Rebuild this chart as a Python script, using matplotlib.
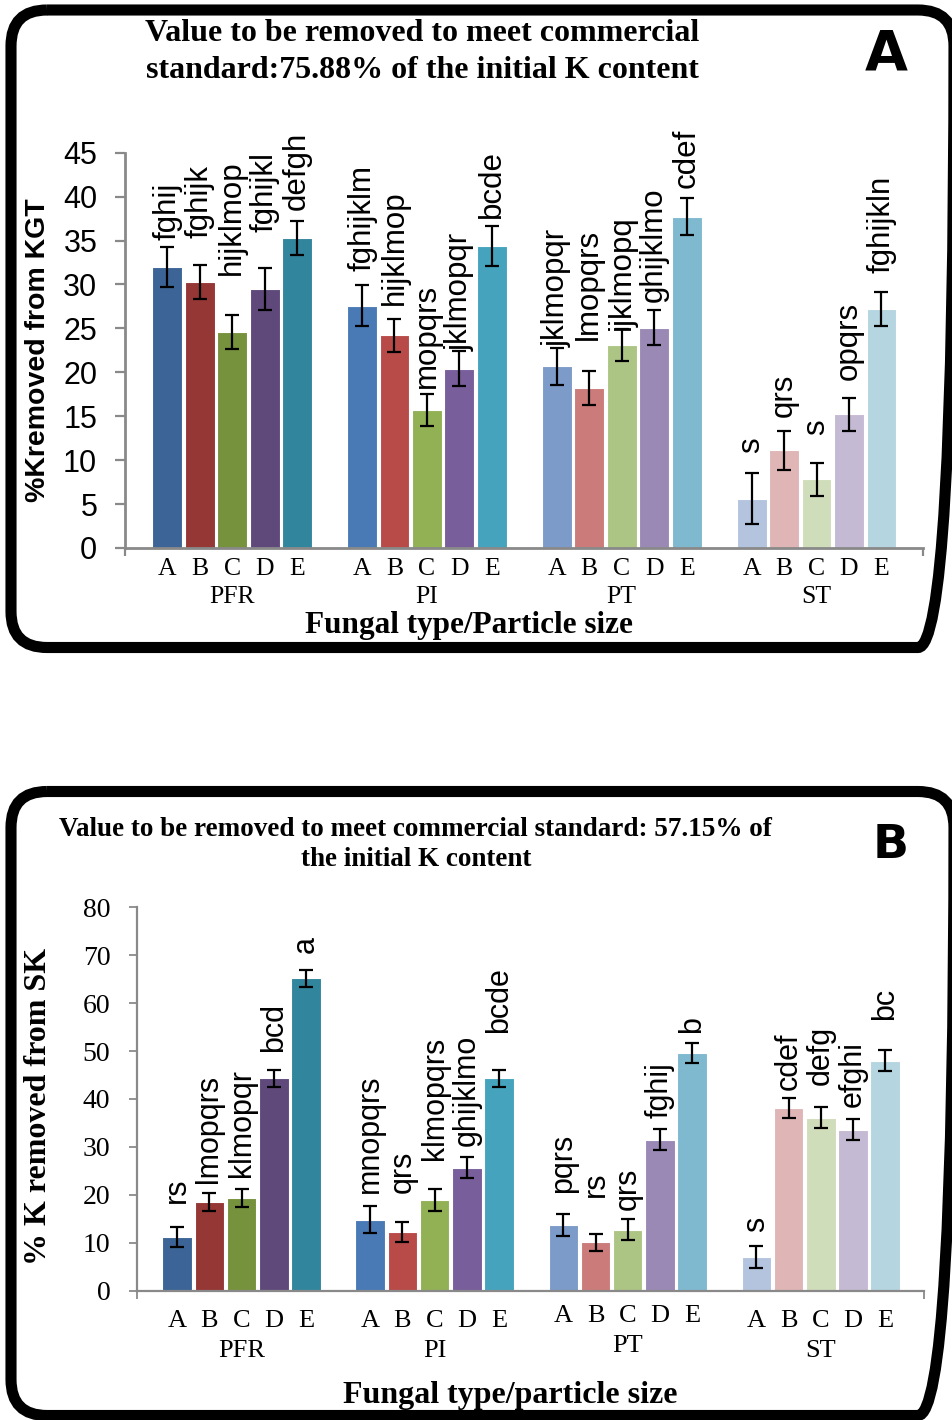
import matplotlib
matplotlib.use("Agg")
import matplotlib.pyplot as plt
from matplotlib.patches import FancyBboxPatch
import numpy as np

# ---------------- data ----------------
groups = ["PFR", "PI", "PT", "ST"]
sizes = ["A", "B", "C", "D", "E"]

values_A = [32.0, 30.3, 24.6, 29.5, 35.3,
            27.6, 24.2, 15.7, 20.4, 34.4,
            20.7, 18.2, 23.1, 25.1, 37.7,
            5.6, 11.1, 7.8, 15.2, 27.2]
errors_A = [2.3, 1.9, 1.9, 2.4, 1.9,
            2.35, 1.9, 1.85, 2.0, 2.3,
            2.1, 1.9, 1.85, 2.0, 2.1,
            2.9, 2.2, 1.9, 1.9, 1.9]
letters_A = ["fghij", "fghijk", "hijklmop", "fghijkl", "defgh",
             "fghijklm", "hijklmop", "mopqrs", "jklmopqr", "bcde",
             "jklmopqr", "lmopqrs", "ijklmopq", "ghijklmo", "cdef",
             "s", "qrs", "s", "opqrs", "fghijkln"]
label_y_A = [35.1, 35.3, 31.1, 36.0, 38.5,
             31.5, 27.7, 18.2, 22.4, 37.6,
             22.9, 23.7, 24.8, 28.05, 41.0,
             10.8, 14.95, 12.9, 19.1, 31.3]

values_B = [11.2, 18.5, 19.4, 44.3, 65.2,
            14.8, 12.2, 18.9, 25.7, 44.3,
            13.7, 10.1, 12.7, 31.5, 49.6,
            7.0, 38.2, 36.1, 33.6, 48.0]
errors_B = [2.1, 1.8, 1.85, 1.85, 1.8,
            2.85, 2.1, 2.35, 2.1, 1.8,
            2.2, 1.8, 2.2, 2.2, 2.1,
            2.35, 2.1, 2.2, 2.2, 2.2]
letters_B = ["rs", "lmopqrs", "klmopqr", "bcd", "a",
             "mnopqrs", "qrs", "klmopqrs", "ghijklmo", "bcde",
             "pqrs", "rs", "qrs", "fghij", "b",
             "s", "cdef", "defg", "efghi", "bc"]
label_y_B = [18.2, 22.4, 23.8, 49.9, 70.4,
             20.3, 20.3, 27.3, 30.1, 53.7,
             20.3, 19.6, 16.8, 36.0, 53.7,
             12.3, 41.9, 42.9, 38.4, 56.5]

yticks_A = [0, 5, 10, 15, 20, 25, 30, 35, 40, 45]
yticks_B = [0, 10, 20, 30, 40, 50, 60, 70, 80]

colors = ["#3C6496", "#953735", "#76923C", "#5F497A", "#31859C",
          "#4A7AB5", "#B84B48", "#92B155", "#795E9C", "#45A3BE",
          "#7C9BC9", "#CB7B79", "#ADC584", "#9B89B5", "#7EB9CF",
          "#B4C4DF", "#DFB6B5", "#D0DDBB", "#C5BAD3", "#B5D5E0"]

W, H = 952, 1420
fig = plt.figure(figsize=(W / 100, H / 100), dpi=100)

# background axes in pixel units for frames
bg = fig.add_axes([0, 0, 1, 1], zorder=0)
bg.set_xlim(0, W)
bg.set_ylim(H, 0)
bg.axis("off")
for (x0, y0, x1, y1) in [(11, 10, 954, 647.5), (11, 791.5, 954, 1415.5)]:
    bg.add_patch(FancyBboxPatch((x0, y0), x1 - x0, y1 - y0,
                                boxstyle="round,pad=0,rounding_size=36",
                                lw=8.0, ec="black", fc="none"))

SERIF = "Liberation Serif"
SANS = "Liberation Sans"
AXCOL = "#898989"

pos = [g * 6 + i for g in range(len(groups)) for i in range(len(sizes))]
tick_letters = sizes * len(groups)
gcenters = [g * 6 + 2 for g in range(len(groups))]


def px2fig(x, y):
    return x / W, 1 - y / H


def make_panel(rect, xlim, ylim, yticks, values, errors, letters, label_y,
               tick_font, tick_size, spine_lw, tick_len, cap, lab_size,
               letter_size, letter_off, group_size, group_offs):
    x0, ytop, x1, ybot = rect
    ax = fig.add_axes([x0 / W, 1 - ybot / H, (x1 - x0) / W, (ybot - ytop) / H], zorder=2)
    ax.set_facecolor("none")
    ax.bar(pos, values, width=0.92, color=colors, edgecolor="white", linewidth=0.8, zorder=2)
    ax.errorbar(pos, values, yerr=errors, fmt="none", ecolor="black",
                elinewidth=1.6, capsize=cap, capthick=1.6, zorder=3)
    for x, t, ly in zip(pos, letters, label_y):
        ax.text(x, ly, t, rotation=90, ha="center", va="bottom",
                fontsize=lab_size, family=SANS, color="black", zorder=4)
    ax.set_xlim(*xlim)
    ax.set_ylim(*ylim)
    ax.set_yticks(yticks)
    ax.set_yticklabels([str(v) for v in yticks], family=tick_font, fontsize=tick_size)
    ax.tick_params(axis="y", direction="out", length=tick_len, width=spine_lw * 0.8,
                   color=AXCOL, pad=13, labelcolor="black")
    ax.set_xticks([xlim[0], xlim[1]])
    ax.set_xticklabels([])
    ax.tick_params(axis="x", direction="out", length=6, width=spine_lw * 0.8, color=AXCOL)
    for s in ["top", "right"]:
        ax.spines[s].set_visible(False)
    for s in ["left", "bottom"]:
        ax.spines[s].set_color(AXCOL)
        ax.spines[s].set_linewidth(spine_lw)
    # category letters
    for k, (x, t) in enumerate(zip(pos, tick_letters)):
        g = k // 5
        ax.annotate(t, xy=(x, 0), xycoords=("data", "axes fraction"),
                    xytext=(0, -letter_off[g] * 0.72), textcoords="offset points",
                    ha="center", va="baseline", fontsize=letter_size, family=SERIF,
                    annotation_clip=False)
    for g, (x, name) in enumerate(zip(gcenters, groups)):
        ax.annotate(name, xy=(x, 0), xycoords=("data", "axes fraction"),
                    xytext=(0, -group_offs[g] * 0.72), textcoords="offset points",
                    ha="center", va="baseline", fontsize=group_size, family=SERIF,
                    annotation_clip=False)
    return ax


# ---------------- Panel A ----------------
axA = make_panel((125, 152.7, 922.7, 548), (-1.3, 23.27), (0, 45), yticks_A,
                 values_A, errors_A, letters_A, label_y_A,
                 SANS, 22, 2.0, 7, 4.7, 22.5, 18.5, [27, 27, 27, 27], 18.5, [55, 55, 55, 55])

x, y = px2fig(422, 41)
fig.text(x, y, "Value to be removed to meet commercial", ha="center", va="baseline",
         fontsize=23, family=SERIF, weight="bold")
x, y = px2fig(422, 78)
fig.text(x, y, "standard:75.88% of the initial K content", ha="center", va="baseline",
         fontsize=23, family=SERIF, weight="bold")
x, y = px2fig(886, 70)
fig.text(x, y, "A", ha="center", va="baseline", fontsize=40, family="DejaVu Sans", weight="bold")
x, y = px2fig(38, 350)
fig.text(x, y, "%Kremoved from KGT", rotation=90, ha="center", va="center",
         fontsize=20.5, family=SANS, weight="bold")
x, y = px2fig(469, 633)
fig.text(x, y, "Fungal type/Particle size", ha="center", va="baseline",
         fontsize=22.5, family=SERIF, weight="bold")

# ---------------- Panel B ----------------
axB = make_panel((136.7, 907.3, 924, 1290.7), (-1.26, 23.21), (0, 80), yticks_B,
                 values_B, errors_B, letters_B, label_y_B,
                 SERIF, 20, 1.6, 6, 5, 22, 19, [36.6, 36.6, 31, 36.6], 19, [66.6, 66.6, 61, 66])

x, y = px2fig(415, 836)
fig.text(x, y, "Value to be removed to meet commercial standard: 57.15% of", ha="center",
         va="baseline", fontsize=19.5, family=SERIF, weight="bold")
x, y = px2fig(416, 866)
fig.text(x, y, "the initial K content", ha="center", va="baseline",
         fontsize=19.5, family=SERIF, weight="bold")
x, y = px2fig(891, 858)
fig.text(x, y, "B", ha="center", va="baseline", fontsize=34, family="DejaVu Sans", weight="bold")
x, y = px2fig(39, 1106)
fig.text(x, y, "% K removed from SK", rotation=90, ha="center", va="center",
         fontsize=23, family=SERIF, weight="bold")
x, y = px2fig(510, 1403)
fig.text(x, y, "Fungal type/particle size", ha="center", va="baseline",
         fontsize=23, family=SERIF, weight="bold")

fig.savefig("out.png", dpi=100)
